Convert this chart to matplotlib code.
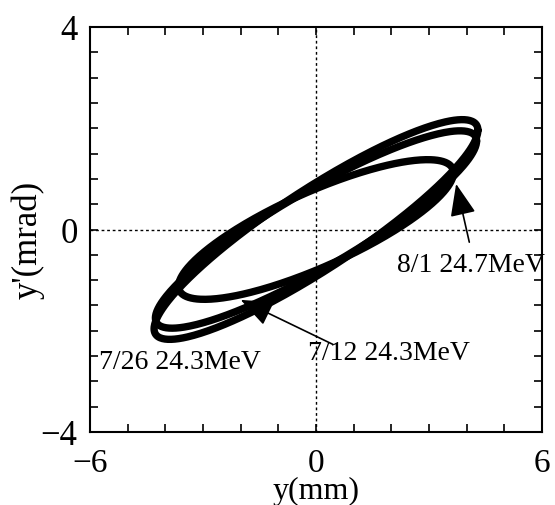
import numpy as np
import matplotlib
matplotlib.use("Agg")
import matplotlib.pyplot as plt
from matplotlib.ticker import FixedLocator, FixedFormatter

# ---- data (Twiss parameters) ----
labels = ["7/26 24.3MeV", "8/1 24.7MeV", "7/12 24.3MeV"]
emittance = [4.00, 3.68, 2.94]     # mm*mrad
beta = [4.62, 4.94, 4.53]          # mm/mrad
alpha = [-2.107, -2.025, -1.39]

# annotation text anchors (left, vertical center) and arrow tail/tip
text_xy = [(-5.77, -2.61), (2.14, -0.70), (-0.20, -2.42)]
arrow_tail = [None, (4.07, -0.25), (0.45, -2.27)]
arrow_tip = [None, (3.72, 0.90), (-2.00, -1.39)]

xticks = [-6, -5, -4, -3, -2, -1, 0, 1, 2, 3, 4, 5, 6]
xticklabels = ["\u22126", "", "", "", "", "", "0", "", "", "", "", "", "6"]
yticks = [-4, -3.5, -3, -2.5, -2, -1.5, -1, -0.5, 0, 0.5, 1, 1.5, 2, 2.5, 3, 3.5, 4]
yticklabels = ["\u22124", "", "", "", "", "", "", "", "0", "", "", "", "", "", "", "", "4"]

plt.rcParams['font.family'] = ['Liberation Serif', 'DejaVu Serif']

fig = plt.figure(figsize=(5.55, 5.06), dpi=100)
ax = fig.add_axes([90/555, 1-433/506, 452/555, 405/506])

ax.axhline(0, color='black', lw=1.0, ls=(0, (2, 2)), zorder=1)
ax.axvline(0, color='black', lw=1.0, ls=(0, (2, 2)), zorder=1)

t = np.linspace(0, 2*np.pi, 400)
for eps, b, a in zip(emittance, beta, alpha):
    x = np.sqrt(eps*b)*np.cos(t)
    xp = -np.sqrt(eps/b)*(a*np.cos(t) + np.sin(t))
    ax.plot(x, xp, color='black', lw=5.3, solid_capstyle='round', zorder=3)

for lab, (tx, ty), tail, tip in zip(labels, text_xy, arrow_tail, arrow_tip):
    ax.text(tx, ty, lab, fontsize=20, ha='left', va='center', zorder=5)
    if tail is not None:
        ax.annotate('', xy=tip, xytext=tail,
                    arrowprops=dict(arrowstyle='-|>,head_length=1.0,head_width=0.4',
                                    color='black', lw=1.2, mutation_scale=20,
                                    shrinkA=0, shrinkB=0), zorder=6)

ax.set_xlim(-6, 6)
ax.set_ylim(-4, 4)
ax.xaxis.set_major_locator(FixedLocator(xticks))
ax.xaxis.set_major_formatter(FixedFormatter(xticklabels))
ax.yaxis.set_major_locator(FixedLocator(yticks))
ax.yaxis.set_major_formatter(FixedFormatter(yticklabels))
ax.tick_params(axis='both', direction='in', length=6, width=1.2,
               top=True, right=True, labelsize=25)
ax.tick_params(axis='x', pad=11, labelsize=24)
ax.tick_params(axis='y', pad=9)
for s in ax.spines.values():
    s.set_linewidth(1.5)

ax.set_xlabel("y(mm)", fontsize=23)
ax.xaxis.set_label_coords(0.5, -0.163)
ax.xaxis.label.set_va('baseline')
ax.set_ylabel("y'(mrad)", fontsize=25)
ax.yaxis.set_label_coords(-0.10, 0.4765)

fig.savefig("out.png", dpi=100)
